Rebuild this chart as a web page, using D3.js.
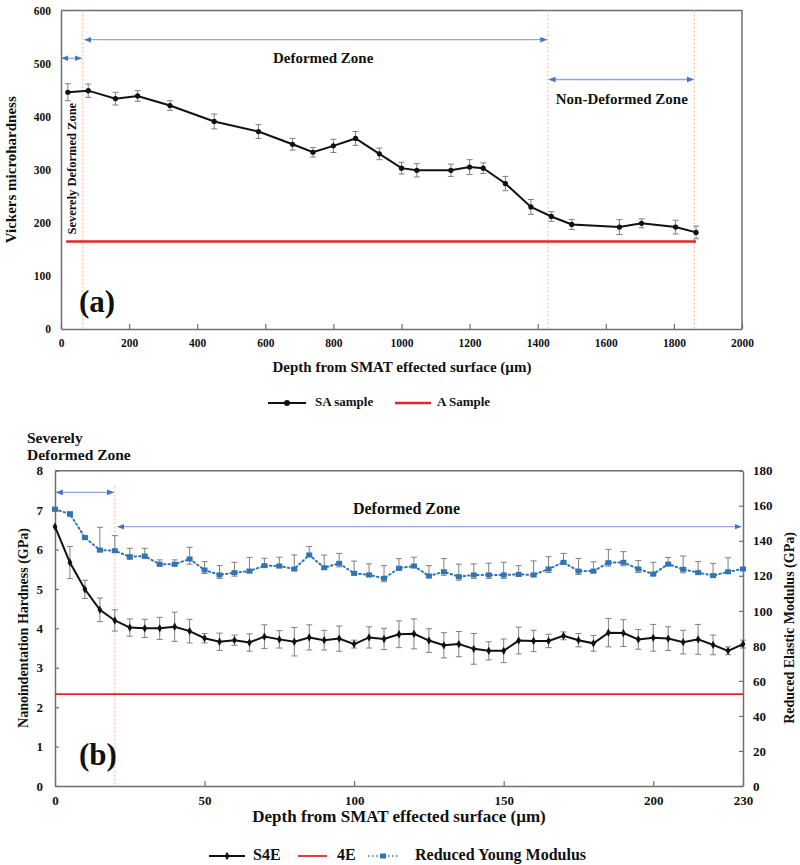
<!DOCTYPE html>
<html>
<head>
<meta charset="utf-8">
<script src="https://cdn.jsdelivr.net/npm/d3@7"></script>
<style>
  html, body { margin: 0; padding: 0; background: #fff; }
  svg { display: block; font-family: "Liberation Serif", "Times New Roman", serif; font-weight: bold; }
</style>
</head>
<body>
<svg id="chart" width="800" height="865"></svg>
<script>
// ---------- Data: panel (a) ----------
const saDepth = [20, 80, 160, 225, 320, 450, 580, 680, 740, 800, 865, 935, 1000, 1045, 1145, 1200, 1240, 1305, 1380, 1440, 1500, 1640, 1705, 1805, 1865];
const saHV    = [446, 449, 434, 439, 421, 391, 372, 348, 333, 345, 359, 330, 303, 299, 299, 305, 303, 274, 230, 212, 197, 192, 199, 192, 182];
const saErr   = [16, 12.5, 12, 10, 9, 14, 13, 11, 9, 12.5, 13, 11, 11, 12.5, 11.5, 14, 10, 13.5, 14, 9, 9.5, 14, 8.5, 13, 12];
const aDepth  = [15, 1865];
const aHV     = [165, 165];
const xTicksA = [0, 200, 400, 600, 800, 1000, 1200, 1400, 1600, 1800, 2000];
const yTicksA = [0, 100, 200, 300, 400, 500, 600];
const zoneLinesA = [64, 1430, 1860];

// ---------- Data: panel (b) ----------
const nDepth = [0, 5, 10, 15, 20, 25, 30, 35, 40, 45, 50, 55, 60, 65, 70, 75, 80, 85, 90, 95, 100, 105, 110, 115, 120, 125, 130, 135, 140, 145, 150, 155, 160, 165, 170, 175, 180, 185, 190, 195, 200, 205, 210, 215, 220, 225, 230];
const s4eH   = [6.58, 5.67, 4.99, 4.47, 4.2, 4.02, 4.0, 4.0, 4.04, 3.93, 3.75, 3.66, 3.7, 3.64, 3.79, 3.72, 3.66, 3.77, 3.7, 3.74, 3.6, 3.77, 3.73, 3.85, 3.86, 3.69, 3.57, 3.6, 3.48, 3.43, 3.43, 3.69, 3.68, 3.68, 3.81, 3.7, 3.62, 3.89, 3.88, 3.72, 3.76, 3.74, 3.65, 3.72, 3.58, 3.43, 3.6];
const s4eErr = [0, 0.41, 0.23, 0.3, 0.27, 0.22, 0.23, 0.28, 0.37, 0.3, 0.12, 0.22, 0.13, 0.22, 0.3, 0.22, 0.36, 0.32, 0.25, 0.32, 0.1, 0.27, 0.27, 0.34, 0.38, 0.3, 0.32, 0.32, 0.39, 0.23, 0.3, 0.34, 0.27, 0.17, 0.1, 0.17, 0.2, 0.36, 0.34, 0.25, 0.34, 0.3, 0.3, 0.38, 0.25, 0.1, 0.1];
const ryM    = [158, 155.3, 141.8, 134.7, 134.3, 130.9, 131.3, 126.6, 126.6, 129.6, 123.3, 120.5, 121.8, 122.7, 125.8, 125.6, 123.9, 131.9, 124.6, 127.1, 121.4, 120.5, 118.6, 124.3, 125.6, 119.9, 122.3, 119.5, 120.5, 120.5, 120.5, 120.8, 120.5, 123.9, 127.7, 122.7, 122.7, 127.5, 127.7, 123.9, 121, 126.7, 123.7, 121.8, 120.1, 122.3, 123.9];
const ryErrUp   = [1, 1.3, 0.5, 13, 8.6, 4.8, 4.4, 2.5, 2.5, 6.7, 4.8, 5.3, 5.9, 7.8, 4.2, 5, 8, 4.8, 7.2, 5.7, 7, 6.3, 7.2, 5.5, 5, 5.9, 7.6, 7.2, 6.3, 6.7, 7.2, 5, 8, 7, 5.1, 7.2, 5.3, 7.6, 6.1, 4.8, 6.7, 3.8, 7.6, 6.3, 7, 8, 0];
const ryErrDown = [1, 1.3, 0.5, 1, 1, 1.5, 1.5, 1, 1, 3, 2, 2, 2, 1, 1, 1, 1, 1, 1, 2, 1, 1, 2, 1, 1, 1, 2, 2, 2, 2, 2, 1, 1, 2, 1, 2, 1, 2, 2, 2, 1, 1, 2, 1, 1, 1, 0];
const e4Depth = [0, 230];
const e4H     = [2.33, 2.33];
const xTicksB = [0, 50, 100, 150, 200, 230];
const yTicksB = [0, 1, 2, 3, 4, 5, 6, 7, 8];
const yTicksB2 = [0, 20, 40, 60, 80, 100, 120, 140, 160, 180];
const zoneLinesB = [20];

// ---------- Setup ----------
const svg = d3.select("#chart");
const AXIS = "#6f6f6f", ERR = "#7f7f7f", RED = "#e0262b", BLUE = "#2e75b6";
const ARROW_LINE = "#8eaadb", ARROW_HEAD = "#4472c4", DASH = "#f2b48a";
const fmt = d3.format("d");

const defs = svg.append("defs");
defs.append("marker").attr("id", "ah").attr("viewBox", "0 0 10 10")
  .attr("refX", 9).attr("refY", 5).attr("markerWidth", 7).attr("markerHeight", 7)
  .attr("markerUnits", "userSpaceOnUse").attr("orient", "auto-start-reverse")
  .append("path").attr("d", "M0,1 L10,5 L0,9 Z").attr("fill", ARROW_HEAD);

function arrow(x1, x2, y) {
  svg.append("line").attr("x1", x1).attr("x2", x2).attr("y1", y).attr("y2", y)
    .attr("stroke", ARROW_LINE).attr("stroke-width", 1.3)
    .attr("marker-start", "url(#ah)").attr("marker-end", "url(#ah)");
}

function styleAxis(g, fs) {
  g.select(".domain").attr("stroke", AXIS).attr("stroke-width", 1.5);
  g.selectAll(".tick line").attr("stroke", AXIS).attr("stroke-width", 1.2);
  g.selectAll(".tick text").attr("fill", "#111").attr("font-size", fs)
    .attr("font-family", "Liberation Serif, serif").attr("font-weight", "bold");
}

// ================= Panel (a) =================
const xA = d3.scaleLinear().domain([0, 2000]).range([61, 742]);
const yA = d3.scaleLinear().domain([0, 600]).range([329, 10.5]);

svg.append("path")
  .attr("d", `M${xA(0)},${yA(600)} L${xA(2000)},${yA(600)} L${xA(2000)},${yA(0)}`)
  .attr("fill", "none").attr("stroke", AXIS).attr("stroke-width", 1.5);

const gxA = svg.append("g").attr("transform", `translate(0,${yA(0)})`)
  .call(d3.axisBottom(xA).tickValues(xTicksA).tickFormat(fmt).tickSizeInner(-5).tickSizeOuter(0).tickPadding(10));
styleAxis(gxA, 11.5);
const gyA = svg.append("g").attr("transform", `translate(${xA(0)},0)`)
  .call(d3.axisLeft(yA).tickValues(yTicksA).tickFormat(fmt).tickSizeInner(0).tickSizeOuter(0).tickPadding(10));
styleAxis(gyA, 11.5);

svg.selectAll(".zla").data(zoneLinesA).join("line")
  .attr("x1", d => xA(d)).attr("x2", d => xA(d)).attr("y1", yA(600)).attr("y2", yA(0))
  .attr("stroke", DASH).attr("stroke-width", 1).attr("stroke-dasharray", "2,2");

svg.append("path").datum(aDepth.map((d, i) => [d, aHV[i]]))
  .attr("d", d3.line().x(d => xA(d[0])).y(d => yA(d[1])))
  .attr("fill", "none").attr("stroke", RED).attr("stroke-width", 2.5);

const saData = saDepth.map((d, i) => ({x: d, y: saHV[i], e: saErr[i]}));
const ebA = svg.append("g").attr("stroke", ERR).attr("stroke-width", 1);
saData.forEach(d => {
  const x = xA(d.x), y1 = yA(d.y + d.e), y2 = yA(d.y - d.e);
  ebA.append("line").attr("x1", x).attr("x2", x).attr("y1", y1).attr("y2", y2);
  ebA.append("line").attr("x1", x - 3).attr("x2", x + 3).attr("y1", y1).attr("y2", y1);
  ebA.append("line").attr("x1", x - 3).attr("x2", x + 3).attr("y1", y2).attr("y2", y2);
});
svg.append("path").datum(saData)
  .attr("d", d3.line().x(d => xA(d.x)).y(d => yA(d.y)))
  .attr("fill", "none").attr("stroke", "#111").attr("stroke-width", 2);
svg.selectAll(".sam").data(saData).join("circle")
  .attr("cx", d => xA(d.x)).attr("cy", d => yA(d.y)).attr("r", 2.6).attr("fill", "#111");

arrow(xA(3), xA(60), yA(510));
arrow(xA(70), xA(1426), yA(545));
arrow(xA(1434), xA(1857), yA(470));
svg.append("text").attr("x", xA(770)).attr("y", yA(508)).attr("text-anchor", "middle")
  .attr("dominant-baseline", "middle").attr("font-size", 15).attr("fill", "#111").text("Deformed Zone");
svg.append("text").attr("x", xA(1647)).attr("y", yA(431)).attr("text-anchor", "middle")
  .attr("dominant-baseline", "middle").attr("font-size", 15).attr("fill", "#111").text("Non-Deformed Zone");
svg.append("text").attr("transform", `translate(${xA(35)},${yA(302)}) rotate(-90)`)
  .attr("text-anchor", "middle").attr("dominant-baseline", "middle")
  .attr("font-size", 12.5).attr("fill", "#111").text("Severely Deformed Zone");
svg.append("text").attr("x", 79).attr("y", 312).attr("font-size", 31).attr("fill", "#111").text("(a)");

svg.append("text").attr("transform", `translate(13,${(yA(0) + yA(600)) / 2}) rotate(-90)`)
  .attr("text-anchor", "middle").attr("dominant-baseline", "middle")
  .attr("font-size", 15).attr("fill", "#111").text("Vickers microhardness");
svg.append("text").attr("x", 402).attr("y", 369).attr("text-anchor", "middle")
  .attr("dominant-baseline", "middle").attr("font-size", 15).attr("fill", "#111")
  .text("Depth from SMAT effected surface (µm)");

const legA = svg.append("g").attr("transform", "translate(0,403)");
legA.append("line").attr("x1", 268).attr("x2", 306).attr("y1", 0).attr("y2", 0).attr("stroke", "#111").attr("stroke-width", 2);
legA.append("circle").attr("cx", 287).attr("cy", 0).attr("r", 3).attr("fill", "#111");
legA.append("text").attr("x", 315).attr("y", 0).attr("dominant-baseline", "middle").attr("font-size", 13).attr("fill", "#111").text("SA sample");
legA.append("line").attr("x1", 395).attr("x2", 431).attr("y1", 0).attr("y2", 0).attr("stroke", RED).attr("stroke-width", 2.5);
legA.append("text").attr("x", 437).attr("y", 0).attr("dominant-baseline", "middle").attr("font-size", 13).attr("fill", "#111").text("A Sample");

// ================= Panel (b) =================
const xB = d3.scaleLinear().domain([0, 230]).range([55, 743]);
const yB = d3.scaleLinear().domain([0, 8]).range([786, 470.7]);
const yB2 = d3.scaleLinear().domain([0, 180]).range([786, 470.7]);

svg.append("path")
  .attr("d", `M${xB(0)},${yB(8)} L${xB(230)},${yB(8)}`)
  .attr("fill", "none").attr("stroke", AXIS).attr("stroke-width", 1.5);

const gxB = svg.append("g").attr("transform", `translate(0,${yB(0)})`)
  .call(d3.axisBottom(xB).tickValues(xTicksB).tickFormat(fmt).tickSizeInner(-5).tickSizeOuter(0).tickPadding(10));
styleAxis(gxB, 13);
const gyB = svg.append("g").attr("transform", `translate(${xB(0)},0)`)
  .call(d3.axisLeft(yB).tickValues(yTicksB).tickFormat(fmt).tickSizeInner(-4).tickSizeOuter(0).tickPadding(12));
styleAxis(gyB, 13);
const gyB2 = svg.append("g").attr("transform", `translate(${xB(230)},0)`)
  .call(d3.axisRight(yB2).tickValues(yTicksB2).tickFormat(fmt).tickSizeInner(-4).tickSizeOuter(0).tickPadding(10));
styleAxis(gyB2, 13);

svg.selectAll(".zlb").data(zoneLinesB).join("line")
  .attr("x1", d => xB(d)).attr("x2", d => xB(d)).attr("y1", yB(7.6)).attr("y2", yB(0))
  .attr("stroke", DASH).attr("stroke-width", 1).attr("stroke-dasharray", "2,2");

svg.append("path").datum(e4Depth.map((d, i) => [d, e4H[i]]))
  .attr("d", d3.line().x(d => xB(d[0])).y(d => yB(d[1])))
  .attr("fill", "none").attr("stroke", RED).attr("stroke-width", 1.8);

const ryData = nDepth.map((d, i) => ({x: d, y: ryM[i], up: ryErrUp[i], dn: ryErrDown[i]}));
const ebB2 = svg.append("g").attr("stroke", ERR).attr("stroke-width", 1);
ryData.forEach(d => {
  if (d.up <= 0) return;
  const x = xB(d.x), y1 = yB2(d.y + d.up), y2 = yB2(d.y - d.dn);
  ebB2.append("line").attr("x1", x).attr("x2", x).attr("y1", y1).attr("y2", y2);
  ebB2.append("line").attr("x1", x - 3).attr("x2", x + 3).attr("y1", y1).attr("y2", y1);
  ebB2.append("line").attr("x1", x - 3).attr("x2", x + 3).attr("y1", y2).attr("y2", y2);
});
svg.append("path").datum(ryData)
  .attr("d", d3.line().x(d => xB(d.x)).y(d => yB2(d.y)))
  .attr("fill", "none").attr("stroke", BLUE).attr("stroke-width", 2)
  .attr("stroke-dasharray", "1.5,3").attr("stroke-linecap", "round");
svg.selectAll(".rym").data(ryData).join("rect")
  .attr("x", d => xB(d.x) - 3).attr("y", d => yB2(d.y) - 2.5).attr("width", 6).attr("height", 5)
  .attr("fill", BLUE);

const s4Data = nDepth.map((d, i) => ({x: d, y: s4eH[i], e: s4eErr[i]}));
const ebB = svg.append("g").attr("stroke", ERR).attr("stroke-width", 1);
s4Data.forEach(d => {
  if (d.e <= 0) return;
  const x = xB(d.x), y1 = yB(d.y + d.e), y2 = yB(d.y - d.e);
  ebB.append("line").attr("x1", x).attr("x2", x).attr("y1", y1).attr("y2", y2);
  ebB.append("line").attr("x1", x - 3).attr("x2", x + 3).attr("y1", y1).attr("y2", y1);
  ebB.append("line").attr("x1", x - 3).attr("x2", x + 3).attr("y1", y2).attr("y2", y2);
});
svg.append("path").datum(s4Data)
  .attr("d", d3.line().x(d => xB(d.x)).y(d => yB(d.y)))
  .attr("fill", "none").attr("stroke", "#111").attr("stroke-width", 2);
svg.selectAll(".s4m").data(s4Data).join("path")
  .attr("d", d3.symbol(d3.symbolDiamond, 20))
  .attr("transform", d => `translate(${xB(d.x)},${yB(d.y)})`).attr("fill", "#111");

arrow(xB(0.5), xB(19.5), yB(7.45));
arrow(xB(21), xB(229.3), yB(6.58));
svg.append("text").attr("x", xB(117.5)).attr("y", yB(7.0)).attr("text-anchor", "middle")
  .attr("dominant-baseline", "middle").attr("font-size", 16).attr("fill", "#111").text("Deformed Zone");
svg.append("text").attr("x", 27).attr("y", 439).attr("dominant-baseline", "middle")
  .attr("font-size", 15.5).attr("fill", "#111").text("Severely");
svg.append("text").attr("x", 27).attr("y", 456).attr("dominant-baseline", "middle")
  .attr("font-size", 15.5).attr("fill", "#111").text("Deformed Zone");
svg.append("text").attr("x", 79).attr("y", 765).attr("font-size", 31).attr("fill", "#111").text("(b)");

svg.append("text").attr("transform", `translate(25,628) rotate(-90)`)
  .attr("text-anchor", "middle").attr("dominant-baseline", "middle")
  .attr("font-size", 14).attr("fill", "#111").text("Nanoindentation Hardness (GPa)");
svg.append("text").attr("transform", `translate(791,628) rotate(-90)`)
  .attr("text-anchor", "middle").attr("dominant-baseline", "middle")
  .attr("font-size", 14).attr("fill", "#111").text("Reduced Elastic Modulus (GPa)");
svg.append("text").attr("x", 399).attr("y", 818).attr("text-anchor", "middle")
  .attr("dominant-baseline", "middle").attr("font-size", 17).attr("fill", "#111")
  .text("Depth from SMAT effected surface (µm)");

const legB = svg.append("g").attr("transform", "translate(0,856)");
legB.append("line").attr("x1", 209).attr("x2", 245).attr("y1", 0).attr("y2", 0).attr("stroke", "#111").attr("stroke-width", 2);
legB.append("path").attr("d", d3.symbol(d3.symbolDiamond, 20)).attr("transform", "translate(227,0)").attr("fill", "#111");
legB.append("text").attr("x", 253).attr("y", 0).attr("dominant-baseline", "middle").attr("font-size", 16).attr("fill", "#111").text("S4E");
legB.append("line").attr("x1", 298).attr("x2", 327).attr("y1", 0).attr("y2", 0).attr("stroke", RED).attr("stroke-width", 1.8);
legB.append("text").attr("x", 337).attr("y", 0).attr("dominant-baseline", "middle").attr("font-size", 16).attr("fill", "#111").text("4E");
legB.append("line").attr("x1", 368).attr("x2", 398).attr("y1", 0).attr("y2", 0).attr("stroke", BLUE).attr("stroke-width", 1.5).attr("stroke-dasharray", "1.5,2.5");
legB.append("rect").attr("x", 380).attr("y", -2.5).attr("width", 6).attr("height", 5).attr("fill", BLUE);
legB.append("text").attr("x", 415).attr("y", 0).attr("dominant-baseline", "middle").attr("font-size", 16).attr("fill", "#111").text("Reduced Young Modulus");
</script>
</body>
</html>
